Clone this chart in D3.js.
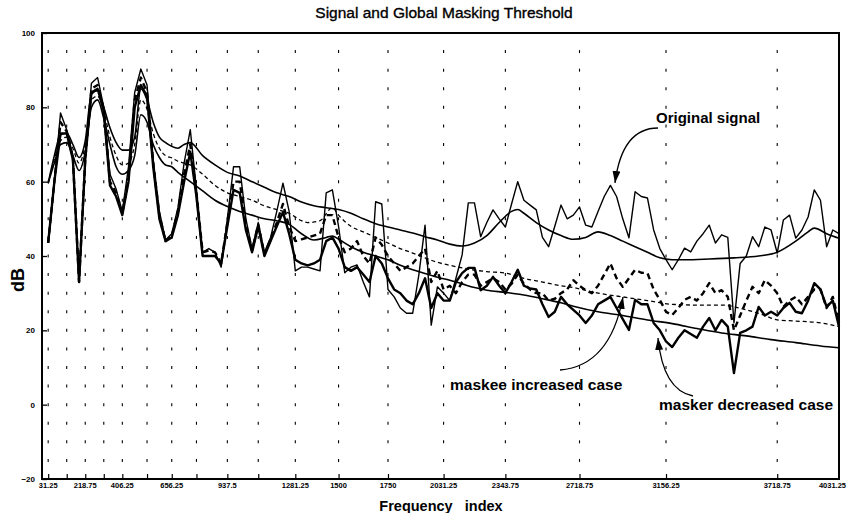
<!DOCTYPE html>
<html><head><meta charset="utf-8">
<script src="https://cdn.jsdelivr.net/npm/d3@7"></script>
<style>body{margin:0;background:#fff} svg{display:block}</style>
</head><body>
<svg id="c" width="847" height="513"></svg>
<script>
// ---------- DATA ----------
const binWidth = 31.25; // Hz per frequency index
// signals, one value per frequency index 1..129 (dB)
const original = [
 43.5,60,78.5,74,67,33,66,86.5,88,80,
 62,58,52,64,84,90.3,86,66,52,44.3,
 46,53,65,74,58,41,42,41,37,50,
 64,64,50,42,49,41,45,52,59.6,52,
 36,37,37,36.5,36,57,57.8,48,35.5,37,
 37.6,33,29,54.6,54,31,29,26,24.6,24.6,
 35,48.3,21.4,31.7,30,28,34,40.3,54.3,54.3,
 45.2,49,52.4,50,47.8,54,60,55,53.7,52.4,
 45,42.5,48,53.7,50,51,53.2,48.3,47.8,52,
 56,59,56,50,44.9,57.3,56,55.6,47,42,
 39,36.3,39,42.1,41.1,44,46,48.3,43.5,45.7,
 45,22,38,40,45.2,42.5,47.8,47,40.8,49.7,
 51,44.8,47,50.5,57.8,55,42.5,47,46];
const maskerDecreased = [
 43.5,60,73,73,66,33,66,84,85,79,
 59,56,51,60,80,86,83,64,50,44,
 45,51,60,68,56,40,40,40,38,48,
 57.8,57,47,41,48,40,44,48,51.8,46,
 39,38,37.5,38,39,44,45,42,37,36,
 37,35,33,40,38,34,31,30,28,27,
 30,34,26,30,28,28,33,35.4,36.8,36.8,
 30.8,32,34.4,32,30,33,36.3,32,31.3,31,
 27,23.6,25,29,27,25.5,24,22,24,27,
 28,29,26,23,20.1,28.2,27,27,22,20,
 17,15.5,18,20,19,18,21,23.3,20,22.8,
 21,8.5,19.3,20,21,26.3,24,25,24,26,
 27.4,25,24.6,28,32.7,31,26.3,28,21];
const maskeeIncreased = [
 43.5,60,76,73.5,66.5,33,66,85,86,79.5,
 60,57,51.5,61,82,88,84,65,51,44,
 45.5,52,62,70,57,41,41.5,41,38,49,
 60,60,48.5,41.5,48.5,40.5,44.5,49,54,48,
 44,44.5,45,45.5,46,51,51,45,41,42,
 44,40,38,45,43,40,38,36,37,38,
 40,42,33,36,31,32,30,33,35,35,
 32,33,34,33,31,32.5,35,32.5,31,30,
 30,28,28.5,30,31,33.5,32,30.8,30,32,
 35,38,34,31.7,34,36.3,35.5,35.4,31,28.2,
 25,24.1,26,28.2,29,28,30,32.7,30,30.8,
 29,20,24,28,31.7,30,33.5,32,30,26.3,
 28,29,27,29,31,31,26,29,22];
// global masking thresholds (frequency index, dB)
const thrOrigBins = [1,2,3,4,5,6,7,8,9,10,11,12,13,14,15,16,17,18,19,20,21,22,23,24,26,28,30,32,34,36,38,40,42,44,46,48,50,52,54,56,58,60,62,64,66,68,70,72,74,76,77,78,80,82,84,86,88,90,92,94,96,98,100,102,104,108,112,116,119,122,124,125,127,129];
const thrOrigDb   = [59.6,67,72.6,73,70,66.5,71,83.5,84.5,80,74.5,70.5,68.5,68.5,72,85,82,76,72,70.5,69.5,69,70,70.5,67,64.5,62.5,61.5,60,58.5,57,56,54.5,53.5,53,52.5,51.5,50,48.7,47.8,47,46.2,45.2,44.3,43.2,42.7,43.5,45.5,49,52,52.5,51.5,49,47,45.5,44.5,45,46.5,45.5,44,42.5,41,39.5,39,39,39.2,39.5,40,41,44,46.5,47.5,46,44.8];
const thrMaskeeBins = [1,2,3,4,5,6,7,8,9,10,11,12,13,14,15,16,17,18,19,20,21,22,23,24,26,28,30,32,34,36,38,40,42,43,45,47,48,50,52,54,56,58,60,62,64,66,68,70,72,75,78,81,84,86,90,94,98,102,106,110,114,117,119,122,126,129];
const thrMaskeeDb   = [59.6,66,71,72,69,65,70,82,83,79,72,67,64.5,65,70,82,79.5,73,69,67,66.4,65.5,65,64.5,62,59,57,56,55,53.5,52.5,51.5,49.5,49,49.5,53,51,48,46.5,45,43.5,42,40.8,39.5,38.3,37.5,36.8,36.2,35.8,35.4,34,33,32,31.5,30,29,28,27,26.8,26.8,25.5,24,22.8,22.5,22,21];
const thrMaskerBins = [1,2,3,4,5,6,7,8,9,10,11,12,13,14,15,16,17,18,19,20,21,22,24,26,28,30,32,34,36,38,40,42,44,46,47,48,50,52,54,56,58,60,62,64,66,68,70,72,75,78,81,84,86,90,94,98,102,106,110,114,118,122,126,129];
const thrMaskerDb   = [59.6,65,70,70.5,67,63,68,80,82,77,70,64,62,63,67,78,76,70,66.5,64.5,64,62.5,60,57.5,55,53.3,52,51,50,49.5,48.5,46,44.3,45,45.4,44.5,42.5,41,40,39,37.5,36.3,35.3,34.3,33.5,32.5,31.5,30.8,30.2,29.5,28.5,27.4,26.5,25,24,22.8,21.8,20.5,19.3,18.5,17.5,16.7,15.8,15.3];
// axes
const gridFreqs = [31.25,125,218.75,312.5,406.25,531.25,656.25,781.25,937.5,1093.75,1281.25,1500,1750,2031.25,2343.75,2718.75,3156.25,3718.75];
const xTickLabels = [31.25,218.75,406.25,656.25,937.5,1281.25,1500,1750,2031.25,2343.75,2718.75,3156.25,3718.75,4031.25];
const yTicks = [-20,0,20,40,60,80,100];
const gridDotLevels = [-15,-10,-5,0,5,10,15,20,25,30,35,40,45,50,55,60,65,70,75,80,85,90,95];

// ---------- DRAW ----------
const FONT = "'Liberation Sans', Arial, Helvetica, sans-serif";
const svg = d3.select('#c');
const x = d3.scaleLinear().domain([0, 4031.25]).range([42, 839]);
const y = d3.scaleLinear().domain([-20, 100]).range([479, 33]);
const fx = i => x((i + 1) * binWidth);

// dotted vertical grid
const grid = svg.append('g');
gridFreqs.forEach(f => {
  grid.selectAll(null).data(gridDotLevels).enter().append('line')
    .attr('x1', x(f)).attr('x2', x(f))
    .attr('y1', d => y(d) - 1.5).attr('y2', d => y(d) + 1.5)
    .attr('stroke', '#000').attr('stroke-width', 1.1);
});

// axes
const yAxis = d3.axisLeft(y).tickValues(yTicks).tickSizeInner(-5).tickSizeOuter(0).tickPadding(7)
  .tickFormat(d3.format('d'));
const gy = svg.append('g').attr('transform', 'translate(42,0)').call(yAxis);
gy.select('.domain').remove();
gy.selectAll('line').attr('stroke', '#000').attr('stroke-width', 1.3);
gy.selectAll('text').attr('font-family', FONT).attr('font-size', 8).attr('font-weight', 'bold')
  .attr('fill', '#000').attr('dy', '0.32em');

const xAxis = d3.axisBottom(x).tickValues(gridFreqs).tickSizeInner(-5).tickSizeOuter(0).tickFormat('');
const gx = svg.append('g').attr('transform', 'translate(0,479)').call(xAxis);
gx.select('.domain').remove();
gx.selectAll('line').attr('stroke', '#000').attr('stroke-width', 1.2);
const lastLabel = xTickLabels[xTickLabels.length - 1];
svg.append('g').selectAll('text').data(xTickLabels).enter().append('text')
  .attr('x', d => d === lastLabel ? 846 : x(d)).attr('y', 488)
  .attr('text-anchor', d => d === lastLabel ? 'end' : 'middle')
  .attr('font-family', FONT).attr('font-size', 7.5)
  .attr('font-weight', 'bold').attr('fill', '#000').text(d => d);

// frame
svg.append('rect').attr('x', 42).attr('y', 33).attr('width', 797).attr('height', 446)
  .attr('fill', 'none').attr('stroke', '#000').attr('stroke-width', 2);

// thresholds
const thrLine = d3.line().curve(d3.curveMonotoneX).x(d => x(d[0] * binWidth)).y(d => y(d[1]));
svg.append('path').datum(d3.zip(thrOrigBins, thrOrigDb)).attr('d', thrLine)
  .attr('fill', 'none').attr('stroke', '#000').attr('stroke-width', 1.6);
svg.append('path').datum(d3.zip(thrMaskeeBins, thrMaskeeDb)).attr('d', thrLine)
  .attr('fill', 'none').attr('stroke', '#000').attr('stroke-width', 1.3).attr('stroke-dasharray', '4,3');
svg.append('path').datum(d3.zip(thrMaskerBins, thrMaskerDb)).attr('d', thrLine)
  .attr('fill', 'none').attr('stroke', '#000').attr('stroke-width', 1.6);

// signals
const sigLine = d3.line().x((d, i) => fx(i)).y(d => y(d));
svg.append('path').datum(original).attr('d', sigLine)
  .attr('fill', 'none').attr('stroke', '#000').attr('stroke-width', 1.4).attr('stroke-linejoin', 'round');
svg.append('path').datum(maskerDecreased).attr('d', sigLine)
  .attr('fill', 'none').attr('stroke', '#000').attr('stroke-width', 2.4).attr('stroke-linejoin', 'round');
svg.append('path').datum(maskeeIncreased).attr('d', sigLine)
  .attr('fill', 'none').attr('stroke', '#000').attr('stroke-width', 2.4).attr('stroke-dasharray', '6,4')
  .attr('stroke-linejoin', 'round');

// titles
svg.append('text').attr('x', 444).attr('y', 18).attr('text-anchor', 'middle')
  .attr('font-family', FONT).attr('font-size', 15.5).attr('fill', '#000')
  .attr('stroke', '#000').attr('stroke-width', 0.35).text('Signal and Global Masking Threshold');
svg.append('text').attr('x', 441).attr('y', 511).attr('text-anchor', 'middle')
  .attr('font-family', FONT).attr('font-size', 14.5).attr('font-weight', 'bold').attr('fill', '#000')
  .attr('xml:space', 'preserve').style('white-space', 'pre').text('Frequency   index');
svg.append('text').attr('transform', 'translate(24,280) rotate(-90)').attr('text-anchor', 'middle')
  .attr('font-family', FONT).attr('font-size', 18).attr('font-weight', 'bold').attr('fill', '#000').text('dB');

// annotations
const defs = svg.append('defs');
defs.append('marker').attr('id', 'ah').attr('viewBox', '0 0 12 8').attr('refX', 12).attr('refY', 4)
  .attr('markerWidth', 12).attr('markerHeight', 8).attr('markerUnits', 'userSpaceOnUse').attr('orient', 'auto')
  .append('path').attr('d', 'M0,0 L12,4 L0,8 Z').attr('fill', '#000');
const notes = [
  {t: 'Original signal', tx: 656, ty: 123, fs: 15, p: 'M658,128 Q622,128 615,183'},
  {t: 'maskee increased case', tx: 450, ty: 390, fs: 15.5, p: 'M560,370 Q610,366 623,297'},
  {t: 'masker decreased case', tx: 659, ty: 410, fs: 15.5, p: 'M693,396 Q663,390 658,338'}
];
notes.forEach(n => {
  svg.append('path').attr('d', n.p).attr('fill', 'none').attr('stroke', '#000')
    .attr('stroke-width', 1.3).attr('marker-end', 'url(#ah)');
  svg.append('text').attr('x', n.tx).attr('y', n.ty).attr('font-family', FONT).attr('font-size', n.fs)
    .attr('font-weight', 'bold').attr('fill', '#000').text(n.t);
});
</script></body></html>
